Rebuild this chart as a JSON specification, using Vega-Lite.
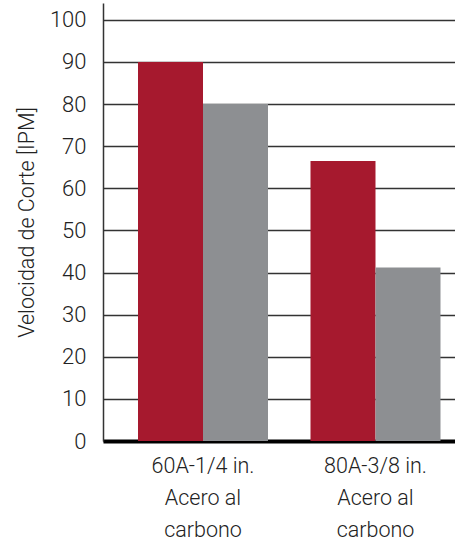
{
  "$schema": "https://vega.github.io/schema/vega-lite/v6.json",
  "autosize": {"type": "none"},
  "padding": {"left": 103, "top": 3, "right": 0, "bottom": 105},
  "width": 352,
  "height": 438,
  "background": "white",
  "data": {
    "values": [
      {"grupo": "60A-1/4 in.|Acero al|carbono", "serie": "Serie 1", "valor": 90},
      {"grupo": "60A-1/4 in.|Acero al|carbono", "serie": "Serie 2", "valor": 80},
      {"grupo": "80A-3/8 in.|Acero al|carbono", "serie": "Serie 1", "valor": 66.5},
      {"grupo": "80A-3/8 in.|Acero al|carbono", "serie": "Serie 2", "valor": 41.2}
    ]
  },
  "config": {
    "view": {"stroke": null},
    "font": "Roboto"
  },
  "mark": {"type": "bar"},
  "encoding": {
    "x": {
      "field": "grupo",
      "type": "nominal",
      "sort": null,
      "scale": {"paddingInner": 0.2464, "paddingOuter": 0.1435, "align": 0.707},
      "axis": {
        "title": null,
        "labelAngle": 0,
        "labelExpr": "split(datum.label, '|')",
        "labelFont": "Roboto",
        "labelFontSize": 21.5,
        "labelFontWeight": 300,
        "labelColor": "#222222",
        "labelLineHeight": 32,
        "labelPadding": 14,
        "ticks": false,
        "domainColor": "#000000",
        "domainWidth": 4,
        "grid": false
      }
    },
    "xOffset": {"field": "serie", "type": "nominal", "scale": {"paddingInner": 0, "paddingOuter": 0}},
    "y": {
      "field": "valor",
      "type": "quantitative",
      "scale": {"domain": [0, 104], "nice": false},
      "axis": {
        "title": "Velocidad de Corte [IPM]",
        "titleFont": "Roboto",
        "titleFontSize": 21.5,
        "titleFontWeight": 300,
        "titleColor": "#222222",
        "titlePadding": 11,
        "values": [0, 10, 20, 30, 40, 50, 60, 70, 80, 90, 100],
        "labelFont": "Roboto",
        "labelFontSize": 22,
        "labelFontWeight": 300,
        "labelColor": "#222222",
        "labelPadding": 17,
        "ticks": false,
        "domainColor": "#333333",
        "domainWidth": 1.5,
        "grid": true,
        "gridColor": "#333333",
        "gridWidth": 1.5
      }
    },
    "color": {
      "field": "serie",
      "type": "nominal",
      "scale": {"domain": ["Serie 1", "Serie 2"], "range": ["#a6192e", "#8d8f92"]},
      "legend": null
    }
  }
}
